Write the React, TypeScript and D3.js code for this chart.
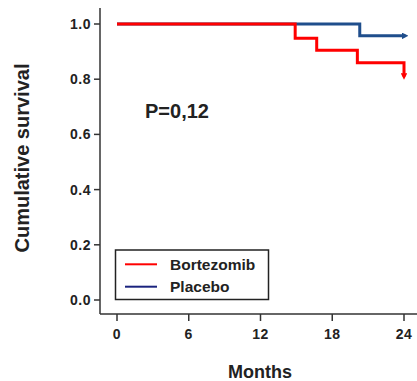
import React from "react";
import * as d3 from "d3";

const bortezomibMonths = [0, 14.9, 16.7, 20.1, 24, 24];
const bortezomibSurvival = [1.0, 0.948, 0.905, 0.86, 0.86, 0.81];
const placeboMonths = [0, 20.3, 24.1];
const placeboSurvival = [1.0, 0.957, 0.957];
const xTicks = [0, 6, 12, 18, 24];
const yTicks = [0, 0.2, 0.4, 0.6, 0.8, 1.0];
const legendLabels = ["Bortezomib", "Placebo"];

const FONT = "'Liberation Sans', Arial, sans-serif";

export default function App() {
  const x = d3.scaleLinear().domain([0, 24]).range([117, 404]);
  const y = d3.scaleLinear().domain([0, 1]).range([300, 24]);
  const line = d3
    .line<[number, number]>()
    .x((d) => x(d[0]))
    .y((d) => y(d[1]))
    .curve(d3.curveStepAfter);
  const red = "#ff0000";
  const blue = "#1f4e8c";
  const legendBlue = "#1a237e";
  const axisColor = "#333";
  const redData = bortezomibMonths.map((m, i) => [m, bortezomibSurvival[i]] as [number, number]);
  const blueData = placeboMonths.map((m, i) => [m, placeboSurvival[i]] as [number, number]);

  return (
    <svg
      width={417}
      height={381}
      style={{ position: "absolute", left: 0, top: 0, display: "block", background: "#fff" }}
      fontFamily={FONT}
    >
      <defs>
        <marker id="arrowBlue" viewBox="0 0 10 10" refX="5" refY="5" markerWidth="2.2" markerHeight="2.2" orient="auto" markerUnits="strokeWidth">
          <path d="M0,0 L10,5 L0,10 z" fill={blue} />
        </marker>
        <marker id="arrowRed" viewBox="0 0 10 10" refX="5" refY="5" markerWidth="2.2" markerHeight="2.2" orient="auto" markerUnits="strokeWidth">
          <path d="M0,0 L10,5 L0,10 z" fill={red} />
        </marker>
      </defs>
      {/* axes */}
      <line x1={100} y1={8} x2={100} y2={314} stroke={axisColor} strokeWidth={1.5} />
      <line x1={100} y1={314} x2={417} y2={314} stroke={axisColor} strokeWidth={1.5} />
      {yTicks.map((t) => (
        <g key={"y" + t}>
          <line x1={94} x2={100} y1={y(t)} y2={y(t)} stroke={axisColor} strokeWidth={1.5} />
          <text x={91} y={y(t)} dy="0.35em" textAnchor="end" fontSize={14} fontWeight="bold" fill="#222" letterSpacing={0.5}>
            {t.toFixed(1)}
          </text>
        </g>
      ))}
      {xTicks.map((t) => (
        <g key={"x" + t}>
          <line x1={x(t)} x2={x(t)} y1={314} y2={321} stroke={axisColor} strokeWidth={1.5} />
          <text x={x(t)} y={339} textAnchor="middle" fontSize={14} fontWeight="bold" fill="#222" letterSpacing={0.5}>
            {t}
          </text>
        </g>
      ))}
      <text x={260} y={378} textAnchor="middle" fontSize={18} fontWeight="bold" fill="#222">
        Months
      </text>
      <text
        transform="translate(29,158) rotate(-90)"
        textAnchor="middle"
        fontSize={20}
        fontWeight="bold"
        fill="#222"
      >
        Cumulative survival
      </text>
      <text x={145} y={118} fontSize={20} fontWeight="bold" fill="#222">
        P=0,12
      </text>
      {/* curves */}
      <path d={line(blueData) || ""} fill="none" stroke={blue} strokeWidth={3} markerEnd="url(#arrowBlue)" />
      <path d={line(redData) || ""} fill="none" stroke={red} strokeWidth={3} markerEnd="url(#arrowRed)" />
      {/* legend */}
      <rect x={115.5} y={250} width={153} height={49.5} fill="#fff" stroke="#222" strokeWidth={1.5} />
      {legendLabels.map((lab, i) => (
        <g key={lab}>
          <line x1={125} x2={157} y1={264.3 + i * 22.4} y2={264.3 + i * 22.4} stroke={i === 0 ? red : legendBlue} strokeWidth={2} />
          <text x={170} y={270 + i * 22} fontSize={15.5} fontWeight="bold" fill="#222">
            {lab}
          </text>
        </g>
      ))}
    </svg>
  );
}
